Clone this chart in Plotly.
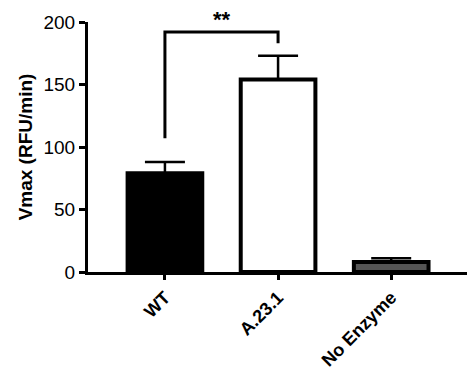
import plotly.graph_objects as go

categories = ["WT", "A.23.1", "No Enzyme"]
vmax = [79, 154, 8]
sem = [9, 19, 3]
fill_colors = ["black", "white", "#555555"]
y_ticks = [0, 50, 100, 150, 200]
sig_label = "**"
sig_y = 192
sig_left_bottom = 107
sig_right_bottom = 183

font_family = "Liberation Sans, Arial, sans-serif"

fig = go.Figure()
fig.add_trace(go.Bar(
    x=categories, y=vmax,
    marker=dict(color=fill_colors, line=dict(color="black", width=4)),
    width=0.66,
    error_y=dict(type="data", array=sem, arrayminus=[0]*len(sem), symmetric=False,
                 color="black", thickness=2.5, width=20),
))

# significance bracket between WT and A.23.1
fig.add_trace(go.Scatter(
    x=[categories[0], categories[0], categories[1], categories[1]],
    y=[sig_left_bottom, sig_y, sig_y, sig_right_bottom],
    mode="lines", line=dict(color="black", width=3), hoverinfo="skip",
    cliponaxis=False,
))
fig.add_annotation(x=0.5, y=sig_y, text="<b>" + sig_label + "</b>", showarrow=False,
                   yanchor="bottom", yshift=-2, font=dict(size=22, color="black",
                   family=font_family))

fig.update_layout(
    width=468, height=365,
    margin=dict(l=80, r=9, t=14, b=101),
    plot_bgcolor="white", paper_bgcolor="white",
    showlegend=False,
    font=dict(family=font_family, color="black"),
    xaxis=dict(
        type="category", range=[-0.68, 2.67], automargin=False,
        showline=True, linecolor="black", linewidth=3,
        ticks="outside", ticklen=5, tickwidth=3, tickcolor="black",
        tickangle=-45, tickfont=dict(size=18, family=font_family),
        tickprefix="<b>", ticksuffix="</b>", showgrid=False, zeroline=False,
    ),
    yaxis=dict(
        range=[0, 200], tickvals=y_ticks, automargin=False,
        showline=True, linecolor="black", linewidth=3,
        ticks="outside", ticklen=6, tickwidth=3, tickcolor="black",
        tickfont=dict(size=19, family=font_family),
        tickprefix="<b>", ticksuffix="</b>",
        showgrid=False, zeroline=False,
        title=dict(text="<b>Vmax (RFU/min)</b>", font=dict(size=19, family=font_family), standoff=6),
    ),
)

fig.write_html("out.html")
